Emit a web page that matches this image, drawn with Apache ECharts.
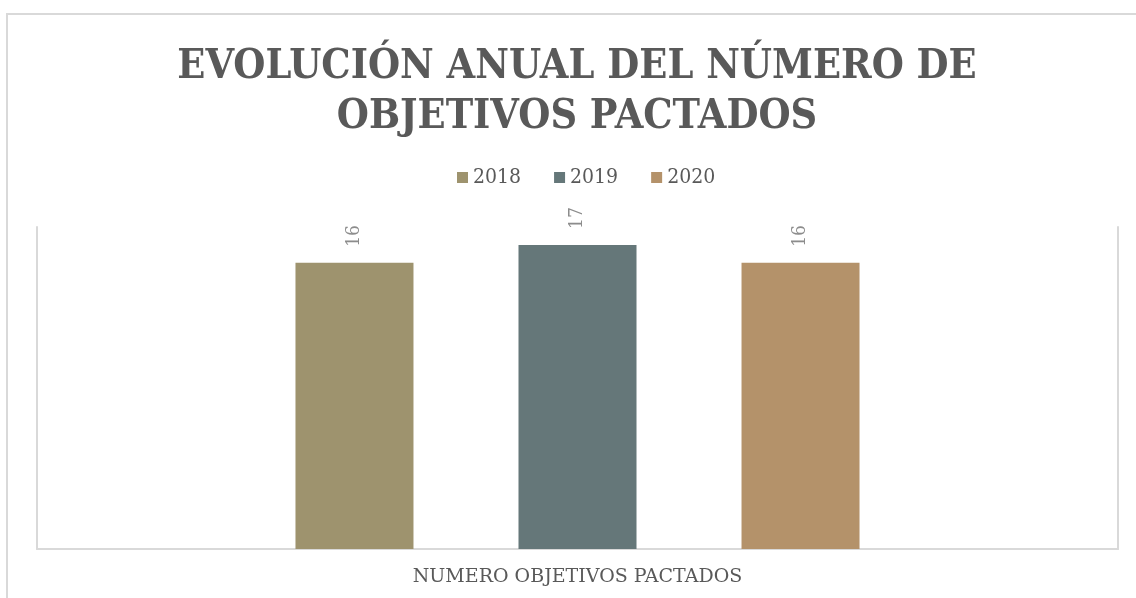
<!DOCTYPE html>
<html>
<head>
<meta charset="utf-8">
<script src="https://cdn.jsdelivr.net/npm/echarts@6/dist/echarts.min.js"></script>
<style>
  html, body { margin: 0; padding: 0; background: #ffffff; }
  #chart { width: 1136px; height: 598px; }
</style>
</head>
<body>
<div id="chart"></div>
<script>
// data
var categories = ['NUMERO OBJETIVOS PACTADOS'];
var years = ['2018', '2019', '2020'];
var values2018 = [16];
var values2019 = [17];
var values2020 = [16];
var colors = ['#9e936e', '#657779', '#b4926a'];

function makeSeries(name, data, color){
  return {
    name: name,
    type: 'bar',
    barWidth: 118,
    barGap: '89%',
    itemStyle: {color: color},
    label: {
      show: true,
      position: 'top',
      rotate: 90,
      align: 'left',
      verticalAlign: 'middle',
      distance: 16,
      color: '#8c8c8c',
      fontFamily: 'DejaVu Serif Condensed, DejaVu Serif',
      fontSize: 19
    },
    data: data
  };
}

var myChart = echarts.init(document.getElementById('chart'));
var option = {
  animation: false,
  title: {
    text: 'EVOLUCIÓN ANUAL DEL NÚMERO DE\nOBJETIVOS PACTADOS',
    left: 572,
    textAlign: 'center',
    top: 37,
    textStyle: {
      color: '#595959',
      fontFamily: 'DejaVu Serif Condensed, DejaVu Serif',
      fontWeight: 'bold',
      fontSize: 41,
      lineHeight: 50
    }
  },
  legend: {
    data: years,
    top: 162,
    left: 452,
    itemWidth: 11,
    itemHeight: 11,
    itemGap: 33,
    icon: 'rect',
    textStyle: {
      color: '#595959',
      fontFamily: 'DejaVu Serif Condensed, DejaVu Serif',
      fontSize: 21
    }
  },
  graphic: [
    {
      type: 'rect',
      shape: {x: 7, y: 14, width: 1140, height: 600},
      style: {fill: 'none', stroke: '#d9d9d9', lineWidth: 2},
      silent: true
    }
  ],
  grid: {
    left: 37,
    right: 18,
    top: 227,
    bottom: 49,
    containLabel: false
  },
  xAxis: [
    {
      type: 'category',
      data: categories,
      axisTick: {show: false},
      axisLine: {show: true, lineStyle: {color: '#d9d9d9', width: 2}},
      axisLabel: {
        color: '#595959',
        fontFamily: 'DejaVu Serif',
        fontSize: 19,
        margin: 19
      }
    }
  ],
  yAxis: [
    {
      type: 'value',
      min: 0,
      max: 18,
      axisLabel: {show: false},
      axisTick: {show: false},
      splitLine: {show: false},
      axisLine: {show: true, lineStyle: {color: '#d9d9d9', width: 2}}
    },
    {
      type: 'value',
      position: 'right',
      min: 0,
      max: 18,
      axisLabel: {show: false},
      axisTick: {show: false},
      splitLine: {show: false},
      axisLine: {show: true, lineStyle: {color: '#d9d9d9', width: 2}}
    }
  ],
  series: [
    makeSeries(years[0], values2018, colors[0]),
    makeSeries(years[1], values2019, colors[1]),
    makeSeries(years[2], values2020, colors[2])
  ]
};
myChart.setOption(option);
</script>
</body>
</html>
